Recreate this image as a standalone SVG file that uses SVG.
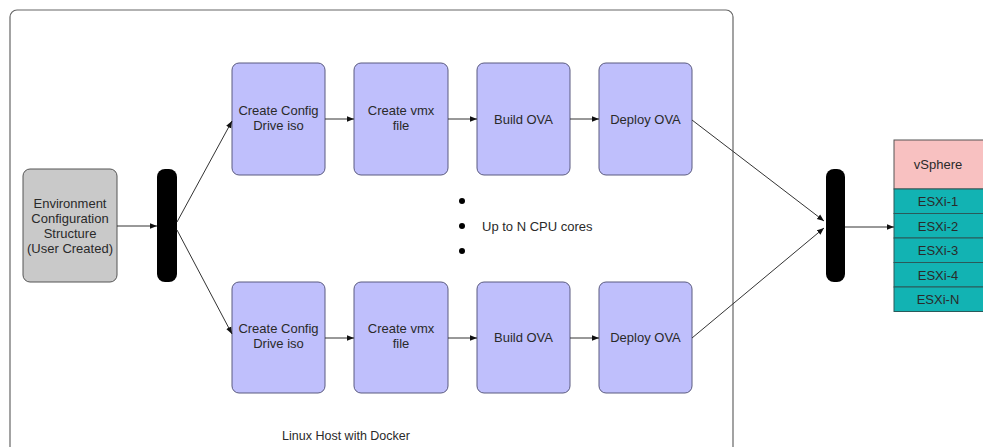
<svg xmlns="http://www.w3.org/2000/svg" width="983" height="447" viewBox="0 0 983 447">
<defs>
<style>
text{font-family:"Liberation Sans",Arial,sans-serif;font-size:13px;fill:#2a2a2a;text-anchor:middle}
.step{fill:#bfbffc;stroke:#5b5b80;stroke-width:1}
.bar{fill:#000}
.conn{stroke:#333;stroke-width:1;fill:none}
.esx{fill:#12b3b3;stroke:#2a5a5a;stroke-width:1}
</style>
<marker id="ah" viewBox="0 0 10 10" refX="10" refY="5" markerWidth="7" markerHeight="7" orient="auto" markerUnits="userSpaceOnUse">
<path d="M0,1 L10,5 L0,9 Z" fill="#111"/>
</marker>
</defs>
<rect width="983" height="447" fill="#fff"/>
<g id="linux-host">
<rect x="10" y="10" width="723" height="460" rx="7" fill="#fff" stroke="#666" stroke-width="1.2"/>
<text x="346" y="440" style="font-size:12.5px">Linux Host with Docker</text>
</g>
<g id="env">
<rect x="23" y="169" width="94" height="113" rx="7" fill="#c9c9c9" stroke="#555"/>
<text x="70" y="208">Environment</text>
<text x="70" y="223">Configuration</text>
<text x="70" y="238">Structure</text>
<text x="70" y="253">(User Created)</text>
</g>
<g id="fork"><rect class="bar" x="157" y="169" width="20" height="113" rx="8"/></g>
<g id="t1"><rect class="step" x="232" y="63" width="93" height="112" rx="7"/><text x="278.5" y="115">Create Config</text><text x="278.5" y="130">Drive iso</text></g>
<g id="t2"><rect class="step" x="354" y="63" width="94" height="112" rx="7"/><text x="401" y="115">Create vmx</text><text x="401" y="130">file</text></g>
<g id="t3"><rect class="step" x="477" y="63" width="93" height="112" rx="7"/><text x="523.5" y="124">Build OVA</text></g>
<g id="t4"><rect class="step" x="599" y="63" width="93" height="112" rx="7"/><text x="645.5" y="124">Deploy OVA</text></g>
<g id="b1"><rect class="step" x="232" y="282" width="93" height="111" rx="7"/><text x="278.5" y="333">Create Config</text><text x="278.5" y="348">Drive iso</text></g>
<g id="b2"><rect class="step" x="354" y="282" width="94" height="111" rx="7"/><text x="401" y="333">Create vmx</text><text x="401" y="348">file</text></g>
<g id="b3"><rect class="step" x="477" y="282" width="93" height="111" rx="7"/><text x="523.5" y="342">Build OVA</text></g>
<g id="b4"><rect class="step" x="599" y="282" width="93" height="111" rx="7"/><text x="645.5" y="342">Deploy OVA</text></g>
<g id="cores">
<circle cx="462" cy="201" r="3" fill="#000"/>
<circle cx="462" cy="226" r="3" fill="#000"/>
<circle cx="462" cy="251" r="3" fill="#000"/>
<text x="482" y="231" style="text-anchor:start">Up to N CPU cores</text>
</g>
<g id="join"><rect class="bar" x="826" y="169" width="19" height="113" rx="8"/></g>
<g id="vsphere">
<rect x="894" y="140" width="95" height="49" fill="#f8c1c1" stroke="#555"/>
<text x="938" y="169">vSphere</text>
<rect class="esx" x="894" y="189" width="95" height="24.5"/>
<text x="938" y="206">ESXi-1</text>
<rect class="esx" x="894" y="213.5" width="95" height="24.5"/>
<text x="938" y="230.5">ESXi-2</text>
<rect class="esx" x="894" y="238" width="95" height="24.5"/>
<text x="938" y="255">ESXi-3</text>
<rect class="esx" x="894" y="262.5" width="95" height="24.5"/>
<text x="938" y="279.5">ESXi-4</text>
<rect class="esx" x="894" y="287" width="95" height="24.5"/>
<text x="938" y="304">ESXi-N</text>
</g>
<g id="connectors">
<line class="conn" x1="117" y1="226" x2="157" y2="226" marker-end="url(#ah)"/>
<line class="conn" x1="177" y1="222" x2="232" y2="121" marker-end="url(#ah)"/>
<line class="conn" x1="177" y1="230" x2="232" y2="334" marker-end="url(#ah)"/>
<line class="conn" x1="325" y1="119" x2="354" y2="119" marker-end="url(#ah)"/>
<line class="conn" x1="448" y1="119" x2="477" y2="119" marker-end="url(#ah)"/>
<line class="conn" x1="570" y1="119" x2="599" y2="119" marker-end="url(#ah)"/>
<line class="conn" x1="325" y1="338" x2="354" y2="338" marker-end="url(#ah)"/>
<line class="conn" x1="448" y1="338" x2="477" y2="338" marker-end="url(#ah)"/>
<line class="conn" x1="570" y1="338" x2="599" y2="338" marker-end="url(#ah)"/>
<line class="conn" x1="692" y1="120" x2="824" y2="221" marker-end="url(#ah)"/>
<line class="conn" x1="692" y1="338" x2="824" y2="228" marker-end="url(#ah)"/>
<line class="conn" x1="845" y1="227" x2="894" y2="227" marker-end="url(#ah)"/>
</g>
</svg>
